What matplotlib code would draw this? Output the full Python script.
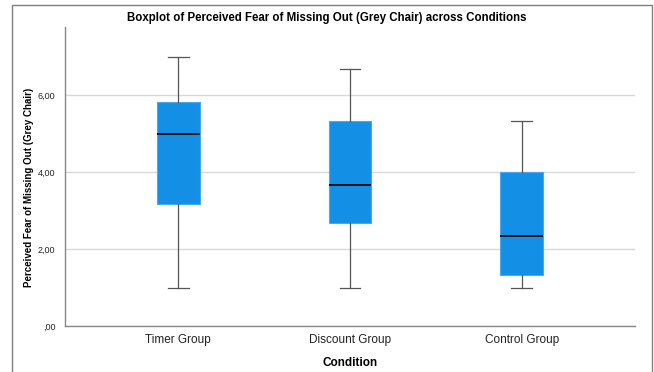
import matplotlib.pyplot as plt
from matplotlib.patches import Rectangle
from matplotlib.ticker import FuncFormatter

plt.rcParams['font.family'] = ['Liberation Sans', 'DejaVu Sans']

GROUPS = ["Timer Group", "Discount Group", "Control Group"]
WHISKER_LOW = [1.0, 1.0, 1.0]
Q1 = [3.17, 2.67, 1.33]
MEDIAN = [5.0, 3.67, 2.33]
Q3 = [5.83, 5.33, 4.0]
WHISKER_HIGH = [7.0, 6.67, 5.33]
YTICKS = [0, 2, 4, 6]

BOX_COLOR = "#1390e6"

fig = plt.figure(figsize=(6.54, 3.72), dpi=100)
ax = fig.add_axes([0.0994, 0.1237, 0.8716, 0.8037])

# outer frame like the SPSS output
fig.patches.append(Rectangle((12/654, -0.1), (652-12)/654, 1.1 - 5/372,
                             transform=fig.transFigure, fill=False,
                             edgecolor="#808080", linewidth=1.0))

stats = []
for i, g in enumerate(GROUPS):
    stats.append(dict(label=g, whislo=WHISKER_LOW[i], q1=Q1[i], med=MEDIAN[i],
                      q3=Q3[i], whishi=WHISKER_HIGH[i], fliers=[]))

ax.bxp(stats, positions=range(len(GROUPS)), widths=0.25, patch_artist=True,
       showfliers=False,
       boxprops=dict(facecolor=BOX_COLOR, edgecolor="#4aa8ec", linewidth=0.8),
       medianprops=dict(color="#111111", linewidth=1.4),
       whiskerprops=dict(color="#555555", linewidth=0.9),
       capprops=dict(color="#555555", linewidth=0.9),
       capwidths=0.12, zorder=3)

ax.set_xlim(-0.66, 2.66)
ax.set_ylim(0, 7.77)
ax.set_yticks(YTICKS)
ax.yaxis.set_major_formatter(FuncFormatter(
    lambda v, p: (",00" if v == 0 else f"{v:.2f}".replace(".", ","))))
ax.grid(axis="y", color="#d9d9d9", linewidth=1.0, zorder=0)
ax.set_axisbelow(True)
ax.tick_params(axis="both", length=0)
ax.tick_params(axis="y", labelsize=6.5, colors="#222222", pad=7)
ax.tick_params(axis="x", labelsize=8.5, colors="#222222", pad=6)
for s in ["top", "right"]:
    ax.spines[s].set_visible(False)
for s in ["left", "bottom"]:
    ax.spines[s].set_color("#888888")
    ax.spines[s].set_linewidth(1.0)

ax.set_xlabel("Condition", fontsize=8.5, fontweight="bold", labelpad=8)
ax.set_ylabel("Perceived Fear of Missing Out (Grey Chair)", fontsize=7,
              fontweight="bold")
ax.yaxis.set_label_coords(-0.054, 0.465)
fig.text(0.5, 1 - 18/372, "Boxplot of Perceived Fear of Missing Out (Grey Chair) across Conditions",
         ha="center", va="center", fontsize=8.3, fontweight="bold")

fig.savefig("out.png", dpi=100)
